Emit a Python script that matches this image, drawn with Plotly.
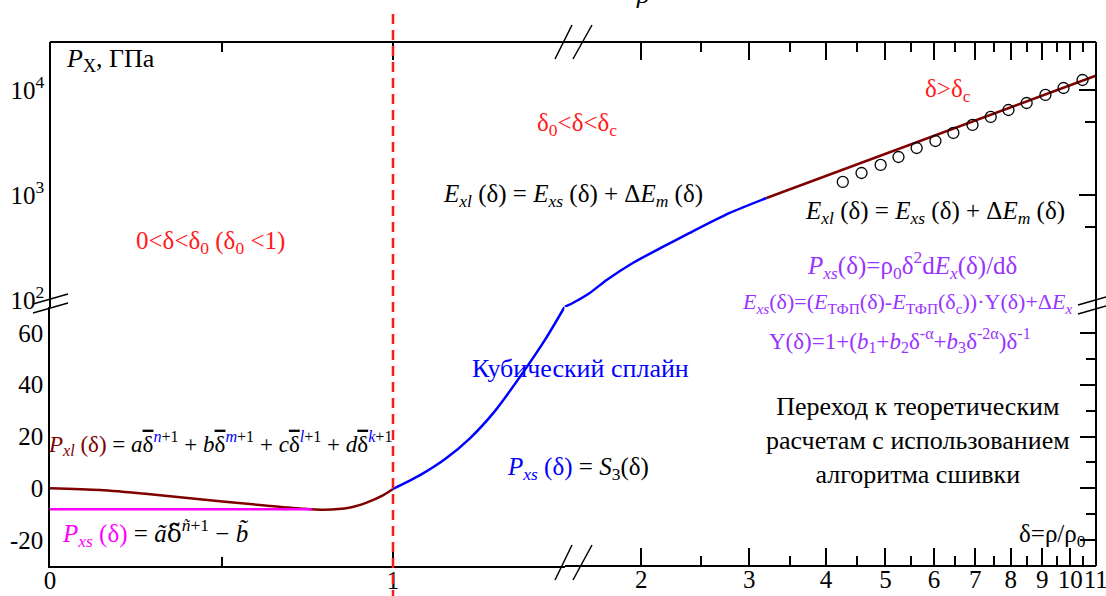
import math
import plotly.graph_objects as go

# ---------------- data ----------------
# region 0 < delta < 1 (linear x, linear y)
delta_xl_low = [0.0, 0.146, 0.292, 0.437, 0.583, 0.729, 0.80, 0.875, 0.923, 0.972, 1.0]
P_xl_low = [0.0, -0.7, -2.3, -4.2, -6.1, -7.8, -8.3, -7.4, -5.5, -2.6, -0.3]
delta_xs_low = [0.0, 0.763]
P_xs_low = [-8.1, -8.1]
# cubic spline, linear part
delta_spline_lin = [1.0, 1.079, 1.152, 1.225, 1.297, 1.370, 1.443, 1.5]
P_spline_lin = [-0.2, 5.1, 11.3, 19.4, 29.8, 43.0, 57.3, 70.0]
# cubic spline, log part
delta_spline_log = [1.5, 1.547, 1.649, 1.757, 1.938, 2.168, 2.399, 2.787, 3.2]
P_spline_log = [85.7, 93.6, 116.6, 155, 225, 320, 435, 674, 936]
# high compression branch
delta_xl_high = [3.2, 4, 5, 6, 7, 8, 9, 10, 11]
P_xl_high = [936, 1524, 2472, 3671, 5127, 6850, 8840, 11110, 13660]
# theoretical points (open circles)
delta_theory = [4.26, 4.57, 4.91, 5.25, 5.62, 6.03, 6.45, 6.93, 7.42, 7.93, 8.49, 9.11, 9.75, 10.47, 11.2]
P_theory = [1330, 1620, 1931, 2301, 2803, 3268, 3895, 4642, 5534, 6449, 7520, 8964, 10447, 12451, 14520]

delta_0_boundary = 1.0
delta_c = 3.2

# axis ticks
x_lin_ticks = [0, 1]
x_lin_ticktext = ["0", "1"]
x_lin_minor = [0.5]
x_log_ticks = [2, 3, 4, 5, 6, 7, 8, 9, 10, 11]
x_log_ticktext = ["2", "3", "4", "5", "6", "7", "8", "9", "10", "11"]
x_log_minor = [2.5, 3.5, 4.5, 5.5, 6.5, 7.5, 8.5, 9.5, 10.5]
y_lin_ticks = [-20, 0, 20, 40, 60]
y_lin_ticktext = ["-20", "0", "20", "40", "60"]
y_lin_minor = [-10, 10, 30, 50]
y_log_ticks = [100, 1000, 10000]
y_log_ticktext = ["10<sup>2</sup>", "10<sup>3</sup>", "10<sup>4</sup>"]
y_log_right_ticks = [1000, 10000]
y_log_minor = [500, 5000]

# ---------------- styling ----------------
FONT = "Liberation Serif"
MAROON = "#800000"
MAGENTA = "#ff00ff"
BLUE = "#0000ff"
RED = "#ff1a1a"
PURPLE = "#9933ff"

W, H = 1106, 596
ML, MR, MT, MB = 50, 10, 42, 30
PW, PH = W - ML - MR, H - MT - MB


def px(xp):
    return (xp - ML) / PW


def py(yp):
    return (H - MB - yp) / PH


DX = px(564.5)   # boundary of linear/log x segments
DY = py(307)     # boundary of linear/log y segments

fig = go.Figure()

fig.add_trace(go.Scatter(x=delta_xl_low, y=P_xl_low, mode="lines", line=dict(color=MAROON, width=2.5, shape="spline", smoothing=0.8),
                         xaxis="x", yaxis="y", showlegend=False))
fig.add_trace(go.Scatter(x=delta_xs_low, y=P_xs_low, mode="lines", line=dict(color=MAGENTA, width=2.5),
                         xaxis="x", yaxis="y", showlegend=False))
fig.add_trace(go.Scatter(x=delta_spline_lin, y=P_spline_lin, mode="lines", line=dict(color=BLUE, width=2.5, shape="spline", smoothing=0.8),
                         xaxis="x", yaxis="y", showlegend=False))
fig.add_trace(go.Scatter(x=delta_spline_log, y=P_spline_log, mode="lines", line=dict(color=BLUE, width=2.5, shape="spline", smoothing=0.6),
                         xaxis="x2", yaxis="y2", showlegend=False))
fig.add_trace(go.Scatter(x=delta_xl_high, y=P_xl_high, mode="lines", line=dict(color=MAROON, width=2.5),
                         xaxis="x2", yaxis="y2", showlegend=False, cliponaxis=False))
fig.add_trace(go.Scatter(x=delta_theory, y=P_theory, mode="markers",
                         marker=dict(symbol="circle-open", size=11, color="black", line=dict(width=1.3, color="black")),
                         xaxis="x2", yaxis="y2", showlegend=False, cliponaxis=False))
# dummy traces so that mirror axes are drawn
for xa, ya in [("x3", "y"), ("x", "y3"), ("x4", "y2"), ("x2", "y4")]:
    fig.add_trace(go.Scatter(x=[None], y=[None], xaxis=xa, yaxis=ya, showlegend=False, hoverinfo="skip"))

base = dict(showline=True, linecolor="black", linewidth=1.5, showgrid=False, zeroline=False, automargin=False,
            tickfont=dict(family=FONT, size=25, color="black"), tickcolor="black", tickwidth=1.5)


def minor(vals, ln):
    return dict(tickvals=vals, ticks="inside", ticklen=ln, tickcolor="black", tickwidth=1.5)


xlin_range = [0, 1.5]
xlog_range = [math.log10(1.5), math.log10(11) + 0.0005]
ylin_range = [-30, 70]
ylog_range = [1.933, 4.457]

fig.update_layout(
    xaxis=dict(base, domain=[0, DX], range=xlin_range, anchor="y", tickmode="array", tickvals=x_lin_ticks,
               ticktext=x_lin_ticktext, ticks="inside", ticklen=17, ticklabelstandoff=-9, tickangle=0,
               minor=minor(x_lin_minor, 9)),
    xaxis2=dict(base, type="log", domain=[DX, 1], range=xlog_range, anchor="free", position=0, tickmode="array",
                tickvals=x_log_ticks, ticktext=x_log_ticktext, ticks="inside", ticklen=17, ticklabelstandoff=-9,
                ticklabeloverflow="allow", tickangle=0, minor=minor(x_log_minor, 9)),
    xaxis3=dict(base, overlaying="x", side="top", anchor="free", position=1, range=xlin_range, tickmode="array",
                tickvals=x_lin_ticks, ticks="inside", ticklen=17, showticklabels=False, minor=minor(x_lin_minor, 9)),
    xaxis4=dict(base, type="log", overlaying="x2", side="top", anchor="free", position=1, range=xlog_range,
                tickmode="array", tickvals=x_log_ticks, ticks="inside", ticklen=17, showticklabels=False,
                minor=minor(x_log_minor, 9)),
    yaxis=dict(base, domain=[0, DY], range=ylin_range, anchor="x", tickmode="array", tickvals=y_lin_ticks,
               ticktext=y_lin_ticktext, ticks=""),
    yaxis2=dict(base, type="log", domain=[DY, 1], range=ylog_range, anchor="free", position=0, tickmode="array",
                tickvals=y_log_ticks, ticktext=y_log_ticktext, ticks=""),
    yaxis3=dict(base, overlaying="y", side="right", anchor="free", position=1, range=ylin_range, tickmode="array",
                tickvals=y_lin_ticks, ticks="inside", ticklen=15, showticklabels=False, minor=minor(y_lin_minor, 9)),
    yaxis4=dict(base, type="log", overlaying="y2", side="right", anchor="free", position=1, range=ylog_range,
                tickmode="array", tickvals=y_log_right_ticks, ticks="inside", ticklen=16, showticklabels=False,
                minor=minor(y_log_minor, 10)),
    width=W, height=H, margin=dict(l=ML, r=MR, t=MT, b=MB, autoexpand=False),
    paper_bgcolor="white", plot_bgcolor="white", showlegend=False,
    font=dict(family=FONT, size=25, color="black"),
)

shapes = []
# region boundaries (red dashed)
shapes.append(dict(type="line", xref="x", yref="paper", x0=delta_0_boundary, x1=delta_0_boundary,
                   y0=py(600), y1=py(10), line=dict(color=RED, width=2.5, dash="10px,6px")))
shapes.append(dict(type="line", xref="x2", yref="paper", x0=math.log10(delta_c), x1=math.log10(delta_c),
                   y0=py(600), y1=py(10), line=dict(color=RED, width=2.5, dash="10px,6px")))
# axis break marks
brk = dict(color="black", width=1.5)
for (x0, y0, x1, y1) in [(555, 59, 572, 25), (573, 59, 592, 25), (555, 580, 572, 545), (573, 580, 592, 545),
                         (33, 304, 68, 294), (33, 313, 68, 303), (1078, 305, 1106, 297), (1078, 314, 1106, 306)]:
    shapes.append(dict(type="line", xref="paper", yref="paper", x0=px(x0), y0=py(y0), x1=px(x1), y1=py(y1), line=brk))
fig.update_layout(shapes=shapes)

anns = []


def ann(text, xp, yp, color="black", size=25, xanchor="center"):
    anns.append(dict(text=text, x=px(xp), y=py(yp), xref="paper", yref="paper", showarrow=False,
                     xanchor=xanchor, yanchor="middle", font=dict(family=FONT, size=size, color=color)))


OV = "<span style='text-decoration:overline'>δ</span>"
TD = "<span style='font-family:DejaVu Serif'>δ\u0303</span>"

ann("<i>P</i><sub>X</sub>, ГПа", 64, 60, size=26, xanchor="left")
ann("0&lt;δ&lt;δ<sub>0</sub> (δ<sub>0</sub> &lt;1)", 210, 243, color=RED)
ann("δ<sub>0</sub>&lt;δ&lt;δ<sub>c</sub>", 577, 125, color=RED)
ann("<i>E</i><sub><i>xl</i></sub> (δ) = <i>E</i><sub><i>xs</i></sub> (δ) + Δ<i>E</i><sub><i>m</i></sub> (δ)", 573, 195)
ann("δ&gt;δ<sub>c</sub>", 948, 90, color=RED)
ann("<i>E</i><sub><i>xl</i></sub> (δ) = <i>E</i><sub><i>xs</i></sub> (δ) + Δ<i>E</i><sub><i>m</i></sub> (δ)", 935, 212)
ann("<i>P</i><sub><i>xs</i></sub>(δ)=ρ<sub>0</sub>δ<sup>2</sup>d<i>E</i><sub><i>x</i></sub>(δ)/dδ", 912, 265, color=PURPLE)
ann("<i>E</i><sub><i>xs</i></sub>(δ)=(<i>E</i><sub>ТФП</sub>(δ)-<i>E</i><sub>ТФП</sub>(δ<sub>c</sub>))·Υ(δ)+Δ<i>E</i><sub><i>x</i></sub>",
    907, 303, color=PURPLE, size=22)
ann("Υ(δ)=1+(<i>b</i><sub>1</sub>+<i>b</i><sub>2</sub>δ<sup>-α</sup>+<i>b</i><sub>3</sub>δ<sup>-2α</sup>)δ<sup>-1</sup>",
    900, 340, color=PURPLE, size=23)
ann("Кубический сплайн", 580, 368, color=BLUE, size=26)
ann(f"<span style='color:{BLUE}'><i>P</i><sub><i>xs</i></sub> (δ)</span> = <i>S</i><sub>3</sub>(δ)", 578, 468)
ann("Переход к теоретическим<br>расчетам с использованием<br>алгоритма сшивки", 918, 440, size=26)
ann("δ=ρ/ρ<sub>0</sub>", 1052, 535)
ann(f"<span style='color:{MAROON}'><i>P</i><sub><i>xl</i></sub> (δ)</span> = <i>a</i>{OV}<sup><span style='color:{BLUE}'><i>n</i></span>+1</sup>"
    f" + <i>b</i>{OV}<sup><span style='color:{BLUE}'><i>m</i></span>+1</sup>"
    f" + <i>c</i>{OV}<sup><span style='color:{BLUE}'><i>l</i></span>+1</sup>"
    f" + <i>d</i>{OV}<sup><span style='color:{BLUE}'><i>k</i></span>+1</sup>", 220, 443, size=23)
ann(f"<span style='color:{MAGENTA}'><i>P</i><sub><i>xs</i></sub> (δ)</span> = <i>ã</i>{TD}<sup><i>ñ</i>+1</sup> − <i>b\u0303</i>",
    155, 533)
ann("<i>ρ</i>", 642, -5, size=26)
fig.update_layout(annotations=anns)

fig.write_html("out.html", config={"displayModeBar": False},
               post_script="document.body.style.margin='0px';document.body.style.overflow='hidden';")
